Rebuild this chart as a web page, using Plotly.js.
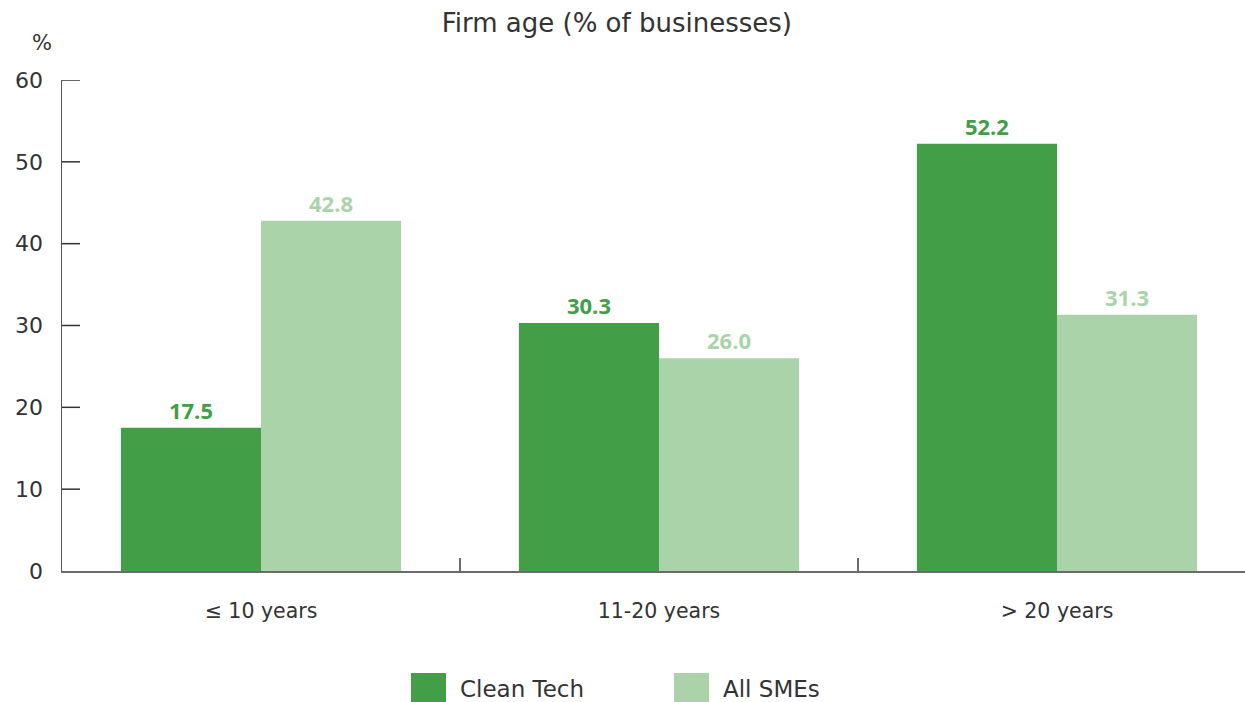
<!DOCTYPE html>
<html>
<head>
<meta charset="utf-8">
<script src="https://cdn.plot.ly/plotly-3.0.1.min.js"></script>
<style>html,body{margin:0;padding:0;background:#fff;}#chart{width:1245px;height:702px;}</style>
</head>
<body>
<div id="chart"></div>
<script>
const categories = ["≤ 10 years", "11-20 years", "> 20 years"];
const seriesNames = ["Clean Tech", "All SMEs"];
const cleanTech = [17.5, 30.3, 52.2];
const allSMEs = [42.8, 26.0, 31.3];
const yTicks = [0, 10, 20, 30, 40, 50, 60];

const dark = "#429e47";
const light = "#aad3aa";
const fontFam = "'DejaVu Sans', sans-serif";
const boldFam = "'Open Sans', 'DejaVu Sans', sans-serif";
const textCol = "#333333";

const traces = [
  {type: "bar", name: seriesNames[0], x: categories, y: cleanTech,
   marker: {color: dark}, text: cleanTech.map(v => v.toFixed(1)), textposition: "outside",
   textfont: {family: boldFam, size: 22, color: dark, weight: 700}, cliponaxis: false, hoverinfo: "skip"},
  {type: "bar", name: seriesNames[1], x: categories, y: allSMEs,
   marker: {color: light}, text: allSMEs.map(v => v.toFixed(1)), textposition: "outside",
   textfont: {family: boldFam, size: 22, color: light, weight: 700}, cliponaxis: false, hoverinfo: "skip"}
];

const W = 1183, H = 491;
function px(x){ return (x - 62) / W; }
function py(y){ return (571 - y) / H; }

const tickShapes = yTicks.filter(v => v > 0).map(v => ({
  type: "line", xref: "paper", yref: "y", x0: 0, x1: 18 / W, y0: v, y1: v,
  line: {color: "#333333", width: 1.5}, layer: "above"
}));

const layout = {
  width: 1245, height: 702,
  margin: {l: 62, r: 0, t: 80, b: 131},
  paper_bgcolor: "#ffffff", plot_bgcolor: "#ffffff",
  barmode: "group", bargap: 0.296, bargroupgap: 0,
  showlegend: false,
  font: {family: fontFam, color: textCol},
  title: {text: "Firm age (% of businesses)", x: 0.469, xref: "paper", y: 0.968, yref: "container",
          xanchor: "center", yanchor: "middle", font: {family: fontFam, size: 26, color: textCol}},
  xaxis: {
    type: "category", range: [-0.5, 2.4724], fixedrange: true,
    showline: true, linecolor: "#6b6b6b", linewidth: 2,
    ticks: "inside", tickson: "boundaries", ticklen: 13, tickcolor: "#6b6b6b", tickwidth: 2,
    tickfont: {family: fontFam, size: 20.5, color: textCol}, ticklabelstandoff: 20,
    showgrid: false, zeroline: false
  },
  yaxis: {
    range: [0, 60], tickvals: yTicks, ticktext: yTicks.map(String),
    showline: true, linecolor: "#555555", linewidth: 1.5,
    ticks: "",
    tickfont: {family: fontFam, size: 22, color: textCol}, ticklabelstandoff: 13,
    showgrid: false, zeroline: false
  },
  shapes: tickShapes.concat([
    {type: "rect", xref: "paper", yref: "paper", x0: px(411), x1: px(446), y0: py(702), y1: py(673), fillcolor: dark, line: {width: 0}},
    {type: "rect", xref: "paper", yref: "paper", x0: px(674), x1: px(709), y0: py(702), y1: py(673), fillcolor: light, line: {width: 0}}
  ]),
  annotations: [
    {text: "%", xref: "paper", yref: "paper", x: px(42), y: py(43), xanchor: "center", yanchor: "middle", showarrow: false,
     font: {family: fontFam, size: 21, color: textCol}},
    {text: seriesNames[0], xref: "paper", yref: "paper", x: px(458), y: py(689), xanchor: "left", yanchor: "middle", showarrow: false,
     font: {family: fontFam, size: 23, color: textCol}},
    {text: seriesNames[1], xref: "paper", yref: "paper", x: px(721), y: py(689), xanchor: "left", yanchor: "middle", showarrow: false,
     font: {family: fontFam, size: 23, color: textCol}}
  ]
};

Plotly.newPlot("chart", traces, layout, {displayModeBar: false, staticPlot: true});
</script>
</body>
</html>
